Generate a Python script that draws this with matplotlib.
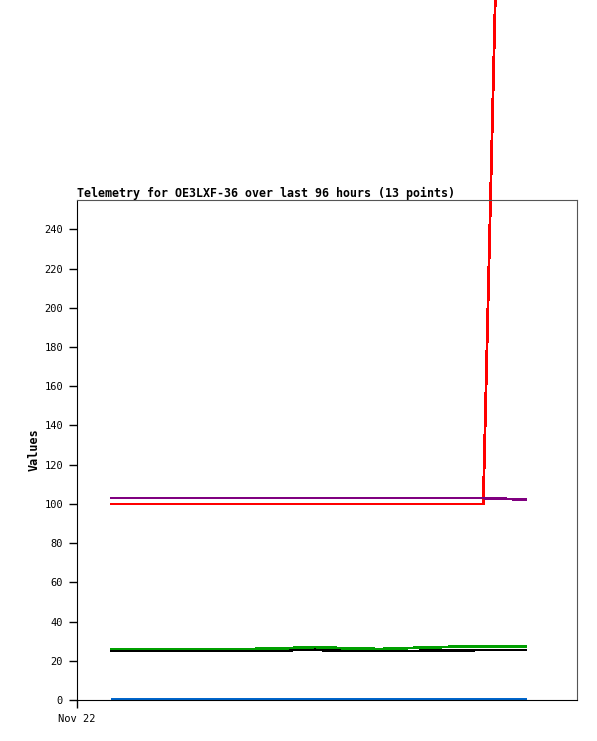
import matplotlib
matplotlib.use("Agg")
import matplotlib.pyplot as plt

# hours since Nov 22 00:00
hours = [6.7, 13.4, 20.0, 26.7, 33.2, 39.9, 45.7, 51.5, 58.2, 64.9, 71.6, 78.0, 86.2]

ch_red    = [100, 100, 100, 100, 100, 100, 100, 100, 100, 100, 100, 100, 1015]
ch_purple = [103, 103, 103, 103, 103, 103, 103, 103, 103, 103, 103, 103, 102.2]
ch_green  = [26.0, 26.0, 26.0, 26.0, 26.0, 26.4, 27.0, 26.4, 26.0, 26.6, 27.1, 27.1, 27.1]
ch_black  = [25.0, 25.0, 25.0, 25.0, 25.0, 25.4, 25.6, 25.0, 25.0, 25.0, 25.3, 25.5, 25.5]
ch_blue   = [0.3] * 13

y_ticks = list(range(0, 241, 20))
x_ticks = [0]
x_labels = ["Nov 22"]

MONO = "DejaVu Sans Mono"

fig = plt.figure(figsize=(5.97, 7.41), dpi=100)
fig.patch.set_facecolor("white")
ax = fig.add_axes([77 / 597, 1 - 700 / 741, 500 / 597, 500 / 741])

lw = 1.3
for ys, col in [(ch_blue, "#0066cc"), (ch_black, "black"), (ch_green, "#00a000"),
                (ch_red, "#ff0000"), (ch_purple, "#800080")]:
    ax.plot(hours, ys, color=col, lw=lw, clip_on=False, antialiased=False)

ax.set_xlim(0, 96)
ax.set_ylim(0, 255)
ax.set_yticks(y_ticks)
ax.set_yticklabels([str(v) for v in y_ticks], fontfamily=MONO, fontsize=7.5)
ax.set_xticks(x_ticks)
ax.set_xticklabels(x_labels, fontfamily=MONO, fontsize=7.5)
ax.tick_params(direction="out", length=6, width=1, pad=4)

ax.spines["left"].set_color("black")
ax.spines["bottom"].set_color("black")
ax.spines["top"].set_color("#555555")
ax.spines["right"].set_color("#555555")

ax.set_ylabel("Values", fontfamily=MONO, fontsize=8.5, fontweight="bold", labelpad=3)
ax.set_title("Telemetry for OE3LXF-36 over last 96 hours (13 points)",
             loc="left", fontfamily=MONO, fontsize=8.4, fontweight="bold", pad=2)

fig.savefig("out.png", dpi=100)
